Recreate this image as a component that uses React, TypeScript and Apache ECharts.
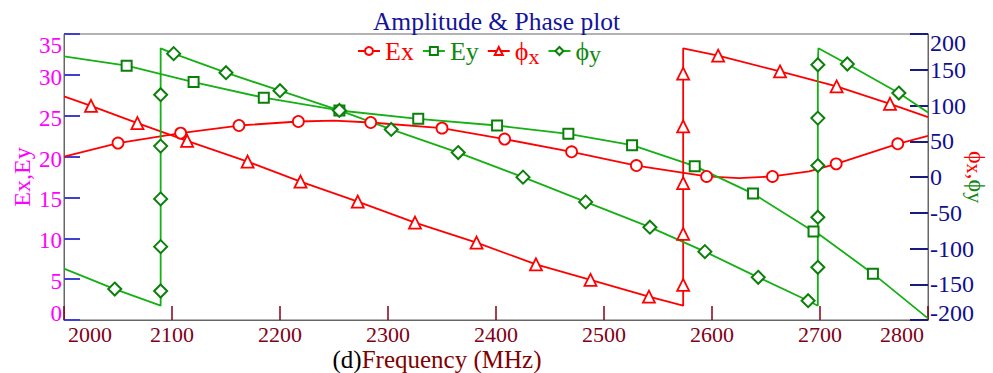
import React, { useEffect, useRef } from "react";
import * as echarts from "echarts";

// ---- data ----
const exFreq = [2000, 2050, 2108, 2162, 2217, 2250, 2284, 2350, 2408, 2470, 2530, 2595, 2625, 2656, 2690, 2715, 2772, 2800];
const exVal = [20.0, 21.65, 22.87, 23.8, 24.29, 24.4, 24.17, 23.48, 22.14, 20.58, 18.9, 17.57, 17.35, 17.57, 18.2, 19.11, 21.56, 22.54];
const exMark = [0, 1, 1, 1, 1, 0, 1, 1, 1, 1, 1, 1, 0, 1, 0, 1, 1, 0];

const eyFreq = [2000, 2058, 2120, 2185, 2255, 2328, 2401, 2467, 2526, 2584, 2638, 2694, 2700, 2749, 2800];
const eyVal = [32.26, 31.12, 29.12, 27.2, 25.64, 24.62, 23.8, 22.79, 21.4, 18.83, 15.47, 10.82, 10.4, 5.67, 0.2];
const eyMark = [0, 1, 1, 1, 1, 1, 1, 1, 1, 1, 1, 1, 0, 1, 0];

const pxFreq = [2000, 2025, 2068, 2114, 2170, 2219, 2272, 2325, 2382, 2437, 2487.5, 2541.6, 2573.3, 2573.3, 2573.3, 2573.3, 2573.3, 2573.3, 2573.3, 2605.7, 2663, 2715.4, 2764.8, 2800];
const pxVal = [112.7, 99.6, 75.4, 50.6, 21.6, -6.4, -34.4, -63.8, -91.8, -122.1, -144, -167.4, -180, -151, -79.6, -8.6, 70.7, 144.5, 180, 169.7, 147.7, 126.7, 102.4, 83.8];
const pxMark = [0, 1, 1, 1, 1, 1, 1, 1, 1, 1, 1, 1, 0, 1, 1, 1, 1, 1, 0, 1, 1, 1, 1, 0];

const pyFreq = [2000, 2047, 2089.5, 2089.5, 2089.5, 2089.5, 2089.5, 2089.5, 2089.5, 2101.5, 2150, 2200, 2255, 2303, 2365, 2425, 2483, 2542.5, 2593.4, 2642.8, 2689, 2698, 2698, 2698, 2698, 2698, 2698, 2698.5, 2725.3, 2773, 2800];
const pyVal = [-128.2, -156.7, -180, -159.4, -97.4, -30.6, 43.2, 115.1, 180, 172.5, 145.9, 120.7, 93.1, 66.5, 34.2, -0.2, -34.8, -70.2, -104.4, -140.3, -173, -180, -126.3, -56.2, 16, 82.4, 157, 180, 158, 117.4, 90.3];
const pyMark = [0, 1, 0, 1, 1, 1, 1, 1, 0, 1, 1, 1, 1, 1, 1, 1, 1, 1, 1, 1, 1, 0, 1, 1, 1, 1, 1, 0, 1, 1, 0];

const xMin = 2000;
const xMax = 2800;
const xStep = 100;
const ampMin = 0;
const ampMax = 35;
const ampStep = 5;
const phMin = -200;
const phMax = 200;
const phStep = 50;

const FONT = "Liberation Serif";
const RED = "#ff0000";
const GREEN_LINE = "#14b014";
const GREEN_MARK = "#0a800a";
const GREEN_TEXT = "#118811";

function build(freq: number[], val: number[], mark: number[]) {
  return freq.map((f, i) => (mark[i] ? { value: [f, val[i]] } : { value: [f, val[i]], symbol: "none" }));
}

export default function App() {
  const ref = useRef<HTMLDivElement>(null);
  useEffect(() => {
    if (!ref.current) return;
    const chart = echarts.init(ref.current, null, { renderer: "svg" });
    const legendRich = {
      r: { color: RED, fontSize: 26, fontFamily: FONT },
      g: { color: GREEN_TEXT, fontSize: 26, fontFamily: FONT },
      g2: { color: GREEN_TEXT, fontSize: 26, fontFamily: FONT, padding: [0, 10, 0, 0] },
      rs: { color: RED, fontSize: 22, fontFamily: FONT, verticalAlign: "bottom", padding: [10, 0, 0, 0] },
      gs: { color: GREEN_TEXT, fontSize: 24, fontFamily: FONT, verticalAlign: "bottom", padding: [5, 0, 0, 0] },
    };
    const option: any = {
      animation: false,
      backgroundColor: "#ffffff",
      title: {
        text: "Amplitude & Phase plot",
        left: "center",
        top: 3,
        textStyle: { color: "#14149a", fontSize: 25.5, fontWeight: "normal", fontFamily: FONT },
      },
      legend: {
        left: 352,
        top: 33,
        itemGap: 8,
        itemWidth: 22,
        itemHeight: 10,
        data: ["Ex", "Ey", "ϕx", "ϕy"],
        formatter: (name: string) => {
          if (name === "Ex") return "{r|Ex}";
          if (name === "Ey") return "{g2|Ey}";
          if (name === "ϕx") return "{r|ϕ}{rs|x}";
          return "{g|ϕ}{gs|y}";
        },
        textStyle: { fontFamily: FONT, fontSize: 26, rich: legendRich },
      },
      grid: {
        left: 64,
        right: 65,
        top: 34,
        bottom: 53,
        show: true,
        borderColor: "#666",
        borderWidth: 1,
        containLabel: false,
        outerBoundsMode: "none",
      },
      xAxis: {
        type: "value",
        min: xMin,
        max: xMax,
        interval: xStep,
        name: "{b|(d)}{r|Frequency (MHz)}",
        nameLocation: "middle",
        nameGap: 28,
        nameMoveOverlap: false,
        nameTextStyle: {
          fontFamily: FONT,
          fontSize: 25,
          lineHeight: 22,
          rich: {
            b: { color: "#000", fontSize: 25, lineHeight: 22, fontFamily: FONT },
            r: { color: "#800000", fontSize: 25, lineHeight: 22, fontFamily: FONT, padding: [0, 118, 0, 0] },
          },
        },
        axisLine: { show: true, lineStyle: { color: "#666", width: 1 } },
        axisTick: { show: true, inside: true, length: 14, lineStyle: { color: "#800018", width: 1.5 } },
        splitLine: { show: false },
        axisLabel: {
          color: "#800018",
          fontSize: 22,
          lineHeight: 18,
          fontFamily: FONT,
          margin: 5,
          formatter: (v: number) => (v === xMin ? `{l|${v}}` : v === xMax ? `{rr|${v}}` : `${v}`),
          rich: {
            l: { padding: [0, 0, 0, 52], color: "#800018", fontSize: 22, lineHeight: 18, fontFamily: FONT },
            rr: { padding: [0, 52, 0, 0], color: "#800018", fontSize: 22, lineHeight: 18, fontFamily: FONT },
          },
        },
      },
      yAxis: [
        {
          type: "value",
          min: ampMin,
          max: ampMax,
          interval: ampStep,
          position: "left",
          name: "Ex,Ey",
          nameLocation: "middle",
          nameGap: 30,
          nameMoveOverlap: false,
          nameTextStyle: { color: "#ff00ff", fontSize: 24, fontFamily: FONT },
          axisLine: { show: true, lineStyle: { color: "#666", width: 1 } },
          axisTick: { show: true, inside: true, length: 16, lineStyle: { color: "#4040d0", width: 2 } },
          splitLine: { show: false },
          axisLabel: {
            color: "#ff00ff",
            fontSize: 23,
            fontFamily: FONT,
            margin: 2,
            formatter: (v: number) => (v === ampMax ? `{t|${v}}` : v === ampMin ? `{b|${v}}` : `{m|${v}}`),
            rich: {
              t: { padding: [22, 0, 0, 0], color: "#ff00ff", fontSize: 23, fontFamily: FONT },
              b: { padding: [0, 0, 14, 0], color: "#ff00ff", fontSize: 23, fontFamily: FONT },
              m: { padding: [5, 0, 0, 0], color: "#ff00ff", fontSize: 23, fontFamily: FONT },
            },
          },
        },
        {
          type: "value",
          min: phMin,
          max: phMax,
          interval: phStep,
          position: "right",
          name: "{r|ϕ}{rs|x}{r|,}{g|ϕ}{gs|y}",
          nameLocation: "middle",
          nameRotate: -90,
          nameGap: 36,
          nameMoveOverlap: false,
          nameTextStyle: {
            fontFamily: FONT,
            fontSize: 24,
            rich: {
              r: { color: RED, fontSize: 24, fontFamily: FONT },
              g: { color: GREEN_TEXT, fontSize: 24, fontFamily: FONT },
              rs: { color: RED, fontSize: 20, fontFamily: FONT, verticalAlign: "bottom", padding: [6, 0, 0, 0] },
              gs: { color: GREEN_TEXT, fontSize: 22, fontFamily: FONT, verticalAlign: "bottom", padding: [4, 0, 0, 0] },
            },
          },
          axisLine: { show: true, lineStyle: { color: "#666", width: 1 } },
          axisTick: { show: true, inside: true, length: 18, lineStyle: { color: "#1a1a80", width: 2 } },
          splitLine: { show: false },
          axisLabel: {
            color: "#10108f",
            fontSize: 24,
            fontFamily: FONT,
            margin: 2,
            formatter: (v: number) => (v === phMax ? `{t|${v}}` : v === phMin ? `{b|${v}}` : `{m|${v}}`),
            rich: {
              t: { padding: [18, 0, 0, 0], color: "#10108f", fontSize: 24, fontFamily: FONT },
              b: { padding: [0, 0, 14, 0], color: "#10108f", fontSize: 24, fontFamily: FONT },
              m: { padding: [0, 0, 0, 0], color: "#10108f", fontSize: 24, fontFamily: FONT },
            },
          },
        },
      ],
      series: [
        {
          name: "Ex",
          type: "line",
          yAxisIndex: 0,
          data: build(exFreq, exVal, exMark),
          symbol: "circle",
          symbolSize: 11,
          lineStyle: { color: RED, width: 1.8 },
          itemStyle: { color: "#fff", borderColor: RED, borderWidth: 1.8 },
          z: 3,
        },
        {
          name: "Ey",
          type: "line",
          yAxisIndex: 0,
          data: build(eyFreq, eyVal, eyMark),
          symbol: "rect",
          symbolSize: 10,
          lineStyle: { color: GREEN_LINE, width: 1.8 },
          itemStyle: { color: "#fff", borderColor: GREEN_MARK, borderWidth: 2 },
          z: 3,
        },
        {
          name: "ϕx",
          type: "line",
          yAxisIndex: 1,
          data: build(pxFreq, pxVal, pxMark),
          symbol: "triangle",
          symbolSize: 12,
          lineStyle: { color: RED, width: 1.8 },
          itemStyle: { color: "#fff", borderColor: RED, borderWidth: 1.8 },
          z: 3,
        },
        {
          name: "ϕy",
          type: "line",
          yAxisIndex: 1,
          data: build(pyFreq, pyVal, pyMark),
          symbol: "diamond",
          symbolSize: 13,
          lineStyle: { color: GREEN_LINE, width: 1.8 },
          itemStyle: { color: "#fff", borderColor: GREEN_MARK, borderWidth: 2 },
          z: 3,
        },
      ],
    };
    chart.setOption(option);
    return () => chart.dispose();
  }, []);
  return (
    <div
      ref={ref}
      style={{ position: "fixed", left: 0, top: 0, width: 993, height: 373, background: "#fff" }}
    />
  );
}
